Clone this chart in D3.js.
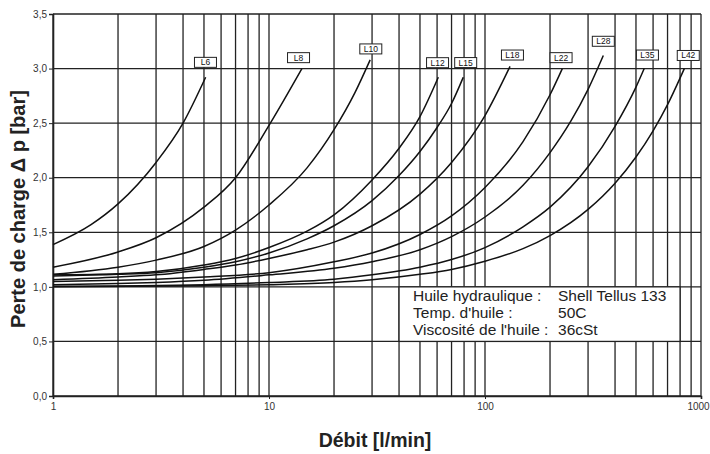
<!DOCTYPE html>
<html>
<head>
<meta charset="utf-8">
<script src="https://cdn.jsdelivr.net/npm/d3@7"></script>
<style>
  body { margin: 0; background: #fff; }
  svg { display: block; font-family: "Liberation Sans", Arial, sans-serif; }
</style>
</head>
<body>
<div id="graf"></div>
<script>
// courbes : débit (l/min) et perte de charge (bar)
const tubes = ["L6", "L8", "L10", "L12", "L15", "L18", "L22", "L28", "L35", "L42"]

const debits = [
  [1, 1.5, 2, 3, 4, 5.09],
  [1, 2, 3, 5, 7, 10, 14.2],
  [1, 2, 3, 5, 7, 10, 15, 20, 25, 29.4],
  [1, 2, 3, 5, 7, 10, 15, 20, 30, 40, 50, 60.8],
  [1, 2, 3, 5, 7, 10, 15, 20, 30, 40, 50, 60, 70, 79.3],
  [1, 2, 3, 5, 7, 10, 15, 20, 30, 50, 70, 100, 130.6],
  [1, 2, 3, 5, 10, 20, 30, 50, 70, 100, 150, 200, 228],
  [1, 2, 3, 5, 10, 20, 30, 50, 70, 100, 150, 200, 250, 300, 353],
  [1, 5, 10, 20, 30, 50, 70, 100, 150, 200, 300, 400, 500, 546],
  [1, 5, 10, 20, 30, 50, 70, 100, 150, 200, 300, 400, 500, 600, 700, 837],
]

const pertes = [
  [1.387, 1.57, 1.76, 2.14, 2.5, 2.92],
  [1.18, 1.32, 1.45, 1.73, 2.0, 2.48, 3.0],
  [1.115, 1.18, 1.245, 1.37, 1.52, 1.75, 2.09, 2.44, 2.78, 3.08],
  [1.11, 1.12, 1.14, 1.2, 1.26, 1.36, 1.51, 1.66, 1.98, 2.27, 2.56, 2.92],
  [1.1, 1.115, 1.13, 1.18, 1.23, 1.31, 1.44, 1.56, 1.79, 2.02, 2.24, 2.46, 2.68, 2.92],
  [1.066, 1.09, 1.11, 1.16, 1.2, 1.26, 1.34, 1.41, 1.56, 1.85, 2.14, 2.57, 3.02],
  [1.05, 1.06, 1.07, 1.09, 1.13, 1.23, 1.31, 1.48, 1.65, 1.91, 2.33, 2.76, 3.0],
  [1.02, 1.03, 1.04, 1.06, 1.11, 1.17, 1.23, 1.34, 1.46, 1.64, 1.93, 2.23, 2.52, 2.81, 3.12],
  [1.005, 1.02, 1.04, 1.07, 1.11, 1.18, 1.25, 1.36, 1.55, 1.73, 2.1, 2.47, 2.83, 3.0],
  [1.0, 1.01, 1.02, 1.04, 1.065, 1.115, 1.16, 1.235, 1.35, 1.47, 1.71, 1.95, 2.19, 2.43, 2.67, 3.0],
]

// position des étiquettes (centre) dans les unités du graphique
const etiqDebit = [5.08, 13.7, 29.6, 60.3, 81.4, 134, 225, 353, 565, 873]
const etiqPerte = [3.057, 3.1, 3.18, 3.054, 3.055, 3.124, 3.1, 3.25, 3.124, 3.12]

const yTicks = [0, 0.5, 1, 1.5, 2, 2.5, 3, 3.5]
const xLabels = [1, 10, 100, 1000]

const infoNoms = ["Huile hydraulique :", "Temp. d'huile :", "Viscosité de l'huile :"]
const infoValeurs = ["Shell Tellus 133", "50C", "36cSt"]
const infoDebit = [40, 800]
const infoPerte = [0.5, 1.0]

const anchoTotal = 710
const altoTotal = 454
const margin = { top: 14, right: 9, bottom: 58, left: 53 }

const svg = d3.select("#graf")
  .append("svg")
  .attr("width", anchoTotal)
  .attr("height", altoTotal)

const x = d3.scaleLog()
  .domain([1, 1000])
  .range([margin.left, anchoTotal - margin.right])

const y = d3.scaleLinear()
  .domain([0, 3.5])
  .range([altoTotal - margin.bottom, margin.top])

const fr = d3.formatLocale({ decimal: ",", thousands: " ", grouping: [3], currency: ["", "€"] })
const fmt = fr.format(".1f")

const gris = "#222"

// grille verticale
svg.append("g")
  .selectAll("line")
  .data(x.ticks())
  .join("line")
  .attr("x1", (d) => x(d))
  .attr("x2", (d) => x(d))
  .attr("y1", y(0))
  .attr("y2", y(3.5))
  .attr("stroke", gris)
  .attr("stroke-width", 1.3)

// grille horizontale
svg.append("g")
  .selectAll("line")
  .data(yTicks)
  .join("line")
  .attr("x1", x(1))
  .attr("x2", x(1000))
  .attr("y1", (d) => y(d))
  .attr("y2", (d) => y(d))
  .attr("stroke", gris)
  .attr("stroke-width", 1.3)

// axes
svg.append("g")
  .attr("transform", `translate(${x(1)},0)`)
  .call(d3.axisLeft(y).tickValues(yTicks).tickFormat(fmt).tickSize(4).tickPadding(2))
  .call((g) => g.select(".domain").attr("stroke", gris).attr("stroke-width", 1.6))
  .call((g) => g.selectAll(".tick line").attr("stroke", gris))
  .call((g) => g.selectAll("text").attr("font-size", 10).attr("fill", "#333"))

svg.append("g")
  .attr("transform", `translate(0,${y(0)})`)
  .call(d3.axisBottom(x).tickValues(xLabels).tickFormat(d3.format("d")).tickSize(3).tickPadding(4))
  .call((g) => g.select(".domain").attr("stroke", gris).attr("stroke-width", 1.6))
  .call((g) => g.selectAll(".tick line").attr("stroke", gris))
  .call((g) => g.selectAll("text").attr("font-size", 10).attr("fill", "#333"))
  .call((g) => g.selectAll(".tick text").filter((d) => d === 1000).attr("dx", -3))

// courbes
const line = d3.line()
  .x((d) => x(d[0]))
  .y((d) => y(d[1]))
  .curve(d3.curveMonotoneX)

svg.append("g")
  .selectAll("path")
  .data(tubes.map((t, i) => debits[i].map((q, j) => [q, pertes[i][j]])))
  .join("path")
  .attr("d", line)
  .attr("fill", "none")
  .attr("stroke", "#111")
  .attr("stroke-width", 1.5)

// étiquettes des tubes
const etiq = svg.append("g")
  .selectAll("g")
  .data(tubes)
  .join("g")
  .attr("transform", (d, i) => `translate(${x(etiqDebit[i])},${y(etiqPerte[i])})`)

etiq.append("rect")
  .attr("x", -11)
  .attr("y", -5)
  .attr("width", 22)
  .attr("height", 10)
  .attr("fill", "#fff")
  .attr("stroke", gris)
  .attr("stroke-width", 1)

etiq.append("text")
  .attr("text-anchor", "middle")
  .attr("dy", "0.35em")
  .attr("font-size", 8.5)
  .attr("fill", "#111")
  .text((d) => d)

// encadré huile
svg.append("rect")
  .attr("x", x(infoDebit[0]))
  .attr("y", y(infoPerte[1]))
  .attr("width", x(infoDebit[1]) - x(infoDebit[0]))
  .attr("height", y(infoPerte[0]) - y(infoPerte[1]))
  .attr("fill", "#fff")
  .attr("stroke", gris)
  .attr("stroke-width", 1.3)

const info = svg.append("g").attr("font-size", 15.5).attr("fill", "#222")
info.selectAll(".nom")
  .data(infoNoms)
  .join("text")
  .attr("class", "nom")
  .attr("x", x(infoDebit[0]) + 14)
  .attr("y", (d, i) => y(infoPerte[1]) + 14 + i * 17)
  .text((d) => d)

info.selectAll(".val")
  .data(infoValeurs)
  .join("text")
  .attr("class", "val")
  .attr("x", x(infoDebit[0]) + 159)
  .attr("y", (d, i) => y(infoPerte[1]) + 14 + i * 17)
  .text((d) => d)

// titres
svg.append("text")
  .attr("transform", `translate(25,209) rotate(-90)`)
  .attr("text-anchor", "middle")
  .attr("font-size", 20)
  .attr("font-weight", "bold")
  .attr("fill", "#222")
  .text("Perte de charge Δ p [bar]")

svg.append("text")
  .attr("x", 375)
  .attr("y", 447)
  .attr("text-anchor", "middle")
  .attr("font-size", 19.5)
  .attr("font-weight", "bold")
  .attr("fill", "#222")
  .text("Débit [l/min]")
</script>
</body>
</html>
